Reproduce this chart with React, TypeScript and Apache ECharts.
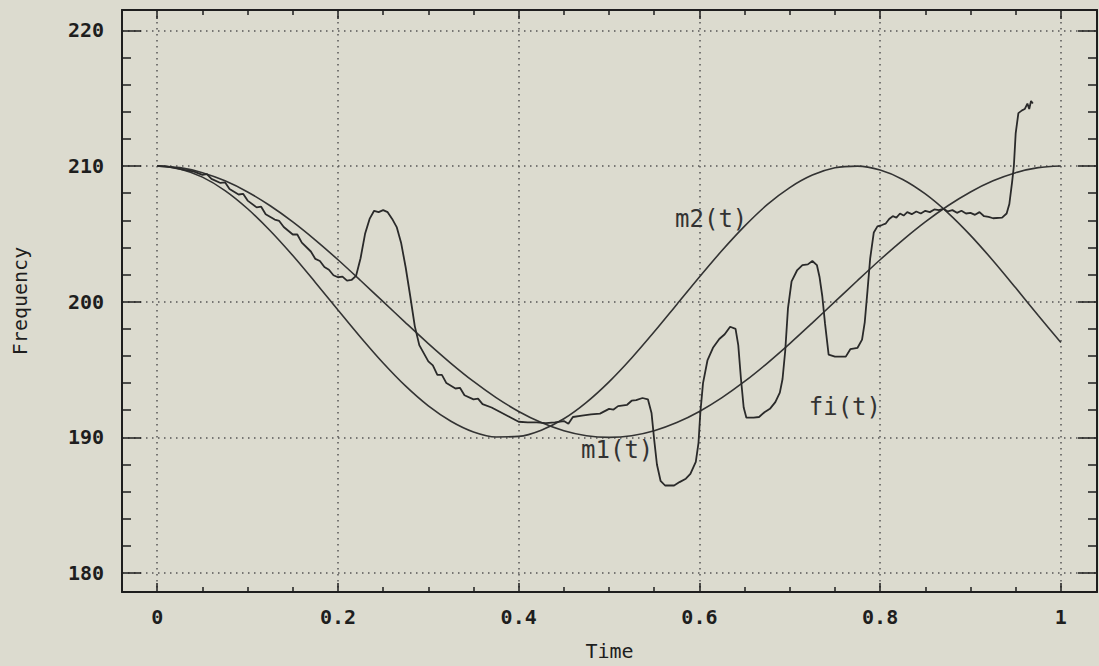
import React, { useEffect, useRef } from "react";
import * as echarts from "echarts";

// Time samples for the two smooth curves
const sampleTimes = [
  0, 0.025, 0.05, 0.075, 0.1, 0.125, 0.15, 0.175, 0.2, 0.225, 0.25, 0.275, 0.3, 0.325, 0.35, 0.375,
  0.4, 0.425, 0.45, 0.475, 0.5, 0.525, 0.55, 0.575, 0.6, 0.625, 0.65, 0.675, 0.7, 0.725, 0.75, 0.775,
  0.8, 0.825, 0.85, 0.875, 0.9, 0.925, 0.95, 0.975, 1,
];

// fi(t): true instantaneous frequency
const fiValues = [
  210, 209.88, 209.51, 208.91, 208.09, 207.07, 205.88, 204.54, 203.09, 201.56, 200, 198.44, 196.91,
  195.46, 194.12, 192.93, 191.91, 191.09, 190.49, 190.12, 190, 190.12, 190.49, 191.09, 191.91, 192.93,
  194.12, 195.46, 196.91, 198.44, 200, 201.56, 203.09, 204.54, 205.88, 207.07, 208.09, 208.91, 209.51,
  209.88, 210,
];

// m2(t)
const m2Values = [
  210, 209.79, 209.18, 208.19, 206.85, 205.23, 203.4, 201.42, 199.39, 197.38, 195.48, 193.77, 192.32,
  191.19, 190.4, 190.03, 190.07, 190.53, 191.37, 192.58, 194.09, 195.85, 197.78, 199.8, 201.82, 203.77,
  205.57, 207.15, 208.41, 209.33, 209.87, 209.99, 209.7, 209.01, 207.94, 206.55, 204.89, 203.02, 201.02,
  198.98, 196.99,
];

// m1(t): noisy estimate, [time, frequency]
const m1Points = [
  [0, 210], [0.01, 209.97], [0.02, 209.85], [0.03, 209.72], [0.04, 209.6], [0.05, 209.35], [0.055, 209.4],
  [0.06, 209.05], [0.07, 208.75], [0.075, 208.8], [0.08, 208.3], [0.09, 207.9], [0.095, 207.95], [0.1, 207.45],
  [0.11, 206.95], [0.115, 207.0], [0.12, 206.45], [0.13, 206.05], [0.135, 205.95], [0.14, 205.5], [0.15, 204.95],
  [0.155, 204.95], [0.16, 204.35], [0.17, 203.7], [0.175, 203.15], [0.18, 203.0], [0.185, 202.55], [0.19, 202.35],
  [0.195, 201.95], [0.2, 201.8], [0.205, 201.85], [0.21, 201.55], [0.215, 201.6], [0.22, 201.9], [0.225, 203.2],
  [0.23, 205.0], [0.235, 206.1], [0.24, 206.7], [0.245, 206.6], [0.25, 206.75], [0.255, 206.6], [0.26, 206.1],
  [0.265, 205.5], [0.27, 204.3], [0.275, 202.5], [0.28, 200.4], [0.285, 198.2], [0.29, 196.8], [0.3, 195.6],
  [0.305, 195.3], [0.31, 194.6], [0.315, 194.6], [0.32, 194.0], [0.33, 193.6], [0.335, 193.65], [0.34, 193.1],
  [0.35, 192.8], [0.355, 192.85], [0.36, 192.45], [0.37, 192.2], [0.38, 191.85], [0.39, 191.5], [0.4, 191.15],
  [0.41, 191.1], [0.42, 191.1], [0.43, 191.05], [0.44, 191.1], [0.45, 191.2], [0.455, 191.0], [0.46, 191.5],
  [0.47, 191.6], [0.48, 191.7], [0.49, 191.75], [0.5, 192.1], [0.505, 192.05], [0.51, 192.3], [0.52, 192.4],
  [0.525, 192.7], [0.53, 192.75], [0.537, 192.9], [0.543, 192.8], [0.547, 191.8], [0.55, 189.8], [0.553, 188.0],
  [0.557, 186.8], [0.562, 186.45], [0.572, 186.45], [0.578, 186.7], [0.585, 186.95], [0.59, 187.3], [0.596, 188.2],
  [0.599, 189.6], [0.601, 191.8], [0.604, 194.0], [0.609, 195.7], [0.615, 196.6], [0.622, 197.25], [0.628, 197.6],
  [0.634, 198.15], [0.64, 198.0], [0.643, 196.8], [0.646, 194.3], [0.649, 192.2], [0.652, 191.45], [0.66, 191.45],
  [0.666, 191.5], [0.672, 191.85], [0.678, 192.1], [0.684, 192.6], [0.689, 193.3], [0.692, 194.3], [0.695, 196.4],
  [0.698, 199.5], [0.702, 201.5], [0.708, 202.3], [0.714, 202.7], [0.72, 202.75], [0.725, 203.0], [0.73, 202.7],
  [0.733, 201.8], [0.736, 200.4], [0.739, 198.4], [0.743, 196.1], [0.75, 195.95], [0.762, 195.95], [0.767, 196.5],
  [0.775, 196.6], [0.78, 197.2], [0.783, 198.5], [0.786, 200.8], [0.789, 203.2], [0.793, 205.1], [0.797, 205.55],
  [0.802, 205.65], [0.806, 205.75], [0.81, 206.1], [0.814, 206.3], [0.818, 206.2], [0.822, 206.5], [0.826, 206.35],
  [0.83, 206.6], [0.835, 206.45], [0.84, 206.65], [0.845, 206.5], [0.85, 206.7], [0.855, 206.6], [0.86, 206.8],
  [0.865, 206.75], [0.87, 206.85], [0.875, 206.65], [0.88, 206.75], [0.885, 206.55], [0.89, 206.7], [0.895, 206.5],
  [0.9, 206.55], [0.905, 206.4], [0.91, 206.6], [0.915, 206.3], [0.92, 206.25], [0.925, 206.15], [0.935, 206.2],
  [0.94, 206.5], [0.943, 207.2], [0.946, 208.8], [0.948, 210.0], [0.95, 212.4], [0.953, 213.9], [0.957, 214.1],
  [0.96, 214.2], [0.963, 214.6], [0.965, 214.2], [0.967, 214.8], [0.969, 214.6],
];

// Curve annotations: [text, time, frequency]
const curveLabels = [
  { name: "m2(t)", t: 0.613, v: 206.1 },
  { name: "m1(t)", t: 0.509, v: 189.1 },
  { name: "fi(t)", t: 0.761, v: 192.25 },
];

const xRange = [-0.039, 1.04];
const yRange = [178.6, 221.5];

const FONT = "'DejaVu Sans Mono', monospace";
const INK = "#1e1e1e";
const LINE = "#333";

export default function App() {
  const ref = useRef<HTMLDivElement>(null);

  useEffect(() => {
    if (!ref.current) return;
    const chart = echarts.init(ref.current, null, { renderer: "svg" });

    const tickStyle = { color: INK, width: 1.5 };
    const xBase = (pos: "bottom" | "top") => ({
      type: "value",
      position: pos,
      min: xRange[0],
      max: xRange[1],
      splitNumber: 5,
      axisLine: { show: true, onZero: false, lineStyle: { color: INK, width: 2 } },
      axisTick: { show: true, inside: true, length: 9, lineStyle: tickStyle },
      minorTick: { show: true, splitNumber: 4, length: 5, lineStyle: tickStyle },
    });
    const yBase = (pos: "left" | "right") => ({
      type: "value",
      position: pos,
      min: yRange[0],
      max: yRange[1],
      splitNumber: 5,
      axisLine: { show: true, onZero: false, lineStyle: { color: INK, width: 2 } },
      axisTick: { show: true, inside: true, length: 19, lineStyle: tickStyle },
      minorTick: { show: true, splitNumber: 5, length: 9, lineStyle: tickStyle },
    });

    const smoothSeries = (name: string, values: number[]) => ({
      name,
      type: "line",
      data: sampleTimes.map((t, i) => [t, values[i]]),
      showSymbol: false,
      smooth: 0.3,
      lineStyle: { color: LINE, width: 1.6 },
      silent: true,
    });

    const tickLabel = {
      show: true,
      showMinLabel: false,
      showMaxLabel: false,
      fontSize: 20,
      fontWeight: "bold",
      color: INK,
      fontFamily: FONT,
    };

    chart.setOption({
      animation: false,
      backgroundColor: "#dcdbcf",
      grid: { left: 122, right: 2, top: 10, bottom: 73, containLabel: false },
      xAxis: [
        {
          ...xBase("bottom"),
          name: "Time",
          nameLocation: "middle",
          nameGap: 49,
          nameTextStyle: { fontSize: 20, color: INK, fontFamily: FONT },
          axisLabel: { ...tickLabel, margin: 15 },
          splitLine: { show: true, lineStyle: { color: "#555", width: 1.5, type: [1.5, 4.5] } },
        },
        {
          ...xBase("top"),
          axisLabel: { show: false },
          splitLine: { show: false },
        },
      ],
      yAxis: [
        {
          ...yBase("left"),
          name: "Frequency",
          nameLocation: "middle",
          nameGap: 92,
          nameTextStyle: { fontSize: 20, color: INK, fontFamily: FONT },
          axisLabel: { ...tickLabel, margin: 18 },
          splitLine: { show: true, lineStyle: { color: "#555", width: 1.5, type: [1.5, 4.5] } },
        },
        {
          ...yBase("right"),
          axisLabel: { show: false },
          splitLine: { show: false },
        },
      ],
      series: [
        smoothSeries("m2(t)", m2Values),
        smoothSeries("fi(t)", fiValues),
        {
          name: "m1(t)",
          type: "line",
          data: m1Points,
          showSymbol: false,
          lineStyle: { color: "#2a2a2a", width: 1.8 },
          silent: true,
          markPoint: {
            symbol: "circle",
            symbolSize: 0,
            silent: true,
            data: curveLabels.map((l) => ({
              coord: [l.t, l.v],
              label: {
                show: true,
                position: "inside",
                formatter: l.name,
                fontSize: 24,
                color: "#333",
                fontFamily: FONT,
              },
            })),
          },
        },
      ],
    });

    return () => chart.dispose();
  }, []);

  return (
    <div
      ref={ref}
      style={{ position: "fixed", left: 0, top: 0, width: 1099, height: 666 }}
    />
  );
}
